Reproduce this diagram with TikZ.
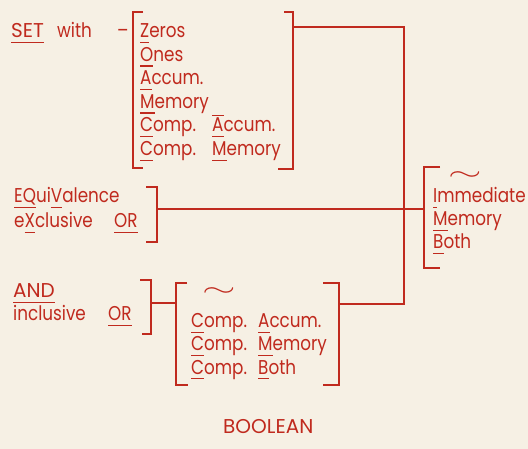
\documentclass[tikz,border=0pt]{standalone}
\usepackage{fontspec}
\setmainfont{Poppins}[FakeStretch=0.84]
\newfontfamily\capsfont{Poppins}
\usepackage{graphicx}
\definecolor{cardred}{RGB}{192,42,30}
\definecolor{cardbg}{RGB}{246,240,228}
\newlength{\barlen}
\newcommand{\mnem}[1]{\settowidth{\barlen}{#1}\rlap{\rule[-5.5pt]{\barlen}{1.6pt}}#1}
\newcommand{\mnemtop}[1]{\settowidth{\barlen}{#1}\rlap{\rule[15.5pt]{\barlen}{1.6pt}}#1}
\newcommand{\wavy}{\scalebox{2.5}[1.4]{$\sim$}}
\tikzset{
  txt/.style={anchor=base west, inner sep=0pt, text=cardred, font=\fontsize{20}{24}\selectfont},
  wv/.style={inner sep=0pt, text=cardred, font=\fontsize{17}{20}\selectfont},
  brak/.style={draw=cardred, line width=1.7pt},
  wire/.style={draw=cardred, line width=1.6pt}
}

\begin{document}
\begin{tikzpicture}[x=1pt, y=-1pt]
        \fill[cardbg] (0,0) rectangle (528,449);
        \node[txt] (SET) at (11,38) {\capsfont\mnem{SET}};
        \node[txt] (with) at (57,38) {with};
        \node[txt] (dash) at (117,38) {--};
        \node[txt] (S1) at (140,38) {\mnem{Z}eros};
        \node[txt] (S2) at (140,61.5) {\mnem{O}nes};
        \node[txt] (S3) at (140,85) {\mnem{A}ccum.};
        \node[txt] (S4) at (140,108.5) {\mnem{M}emory};
        \node[txt] (S5a) at (140,132) {\mnem{C}omp.};
        \node[txt] (S5b) at (212,132) {\mnemtop{\mnem{A}}ccum.};
        \node[txt] (S6a) at (140,156) {\mnem{C}omp.};
        \node[txt] (S6b) at (212,156) {\mnem{M}emory};
        \node[txt] (E1) at (14,203) {\mnem{EQ}ui\mnem{V}alence};
        \node[txt] (E2a) at (14,228) {e\mnem{X}clusive};
        \node[txt] (E2b) at (114,228) {\mnem{OR}};
        \node[txt] (A1) at (13,298) {\capsfont\mnem{AND}};
        \node[txt] (A2a) at (13,321) {inclusive};
        \node[txt] (A2b) at (108,321) {\mnem{OR}};
        \node[wv] (Cw) at (219,292) {\wavy};
        \node[txt] (C1a) at (191,328) {\mnem{C}omp.};
        \node[txt] (C1b) at (258,328) {\mnem{A}ccum.};
        \node[txt] (C2a) at (191,351) {\mnem{C}omp.};
        \node[txt] (C2b) at (258,351) {\mnem{M}emory};
        \node[txt] (C3a) at (191,374) {\mnem{C}omp.};
        \node[txt] (C3b) at (258,374) {\mnem{B}oth};
        \node[wv] (Iw) at (465,176) {\wavy};
        \node[txt] (I1) at (433,203) {\mnem{I}mmediate};
        \node[txt] (I2) at (433,226) {\mnem{M}emory};
        \node[txt] (I3) at (433,249) {\mnem{B}oth};
        \node[txt] (title) at (223,433) {\capsfont BOOLEAN};
        \draw[brak] (143,12) -- (133,12) -- (133,168) -- (143,168);
        \draw[brak] (284,12) -- (293,12) -- (293,169) -- (278,169);
        \draw[brak] (146,187) -- (157,187) -- (157,242) -- (146,242);
        \draw[brak] (140,280) -- (151,280) -- (151,334) -- (142,334);
        \draw[brak] (187,283) -- (176,283) -- (176,385) -- (188,385);
        \draw[brak] (323,283) -- (339,283) -- (339,385) -- (323,385);
        \draw[brak] (440,167) -- (424,167) -- (424,268) -- (440,268);
        \coordinate (setout) at (293,27);
        \coordinate (bus) at (404,27);
        \coordinate (compout) at (339,304);
        \coordinate (eqvout) at (157,209);
        \coordinate (immin) at (424,209);
        \coordinate (andout) at (151,303);
        \coordinate (compin) at (176,303);
        \draw[wire] (setout) -- (bus) |- (compout);
        \draw[wire] (eqvout) -- (immin);
        \draw[wire] (andout) -- (compin);
\end{tikzpicture}
\end{document}
